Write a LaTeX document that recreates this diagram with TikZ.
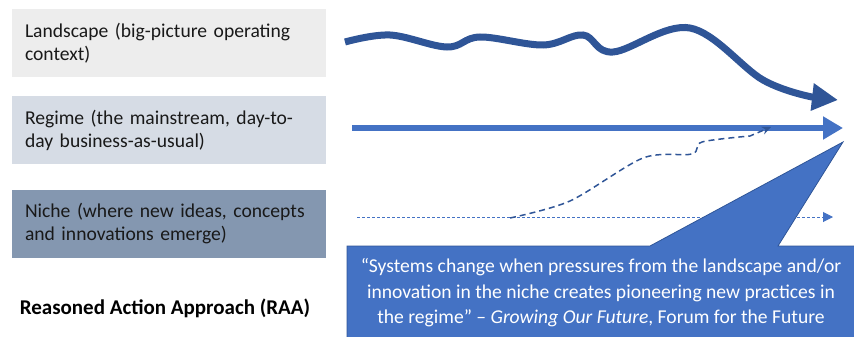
\documentclass[tikz,border=0pt]{standalone}
\usepackage{fontspec}
\setmainfont{Carlito}
\usepackage{tikz}
\usetikzlibrary{arrows.meta, positioning}
\definecolor{landfill}{HTML}{EDEDED}
\definecolor{regimefill}{HTML}{D6DCE5}
\definecolor{nichefill}{HTML}{8497B0}
\definecolor{darkblue}{HTML}{2F5597}
\definecolor{midblue}{HTML}{4472C4}
\begin{document}
\begin{tikzpicture}[x=1pt, y=-1pt,
		layer/.style={minimum width=314pt, minimum height=68pt, text width=288pt, inner xsep=13pt, align=left, font=\fontsize{19.6}{23}\selectfont, text=black!90},
		quote/.style={text=white, align=center, font=\fontsize{19.6}{25.5}\selectfont},
		wave/.style={-{Triangle[length=26pt, width=26pt]}, line width=7pt, color=darkblue},
		flow/.style={-{Triangle[length=20pt, width=22pt]}, line width=6pt, color=midblue},
		dots/.style={-{Triangle[length=10pt, width=10pt]}, line width=1pt, dash pattern=on 3pt off 2pt, color=midblue},
		jump/.style={-{Stealth[length=9pt, width=8pt]}, line width=1.5pt, dash pattern=on 6pt off 4pt, color=darkblue}
	]
	\useasboundingbox (0,0) rectangle (854,337);
	% layers on the left
	\foreach \name/\y/\col/\txt in {land/43/landfill/{Landscape (big-picture operating\\context)},
			regime/130/regimefill/{Regime (the mainstream, day-to-\\day business-as-usual)},
			niche/224/nichefill/{Niche (where new ideas, concepts\\and innovations emerge)}} {
			\node[layer, fill=\col] (\name) at (169,\y) {\txt};
		}
	\node[font=\fontsize{21}{25}\selectfont\bfseries] (raa) at (165,308) {Reasoned Action Approach (RAA)};
	% arrows
	\coordinate (wstart) at (345,42);
	\coordinate (wend) at (838,100);
	\draw[wave] plot[smooth, tension=0.6] coordinates {(wstart) (390,35) (447,47) (480,37) (543,45) (583,35) (613,52) (690,28) (763,80) (812,97)} -- (wend);
	\coordinate (rstart) at (352,128);
	\coordinate (rend) at (843,128);
	\draw[flow] (rstart) -- (rend);
	\coordinate (nstart) at (357,217);
	\coordinate (nend) at (833,217);
	\draw[dots] (nstart) -- (nend);
	\coordinate (jstart) at (510,218);
	\coordinate (jend) at (771,127);
	\draw[jump] plot[smooth, tension=0.5] coordinates {(jstart) (570,201) (643,158) (692,154) (702,142) (750,136)} -- (jend);
	% callout
	\filldraw[fill=midblue, draw=darkblue, line width=0.8pt] (347,246) -- (650,246) -- (843,142) -- (778,246) -- (855,246) -- (855,338) -- (347,338) -- cycle;
	\node[quote] (cite) at (601,293) {“Systems change when pressures from the landscape and/or\\innovation in the niche creates pioneering new practices in\\the regime” – \textit{Growing Our Future}, Forum for the Future};
\end{tikzpicture}
\end{document}
